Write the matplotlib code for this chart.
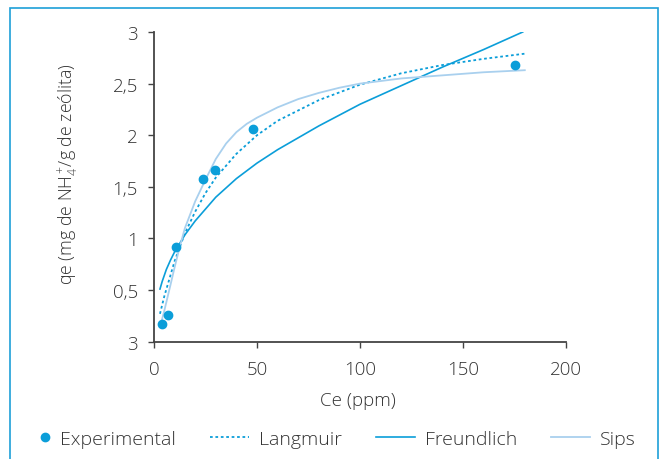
import numpy as np
import matplotlib
matplotlib.use("Agg")
import matplotlib.pyplot as plt
import matplotlib.patches as mpatches
from matplotlib.legend_handler import HandlerLine2D

# colours
BLUE = "#0b9ed9"
LIGHT = "#a9d0ee"
TXT = "#333333"
AX = "#444444"

plt.rcParams["font.family"] = ["Open Sans", "DejaVu Sans"]
plt.rcParams["font.weight"] = "light"
plt.rcParams["axes.labelweight"] = "light"
plt.rcParams["mathtext.fontset"] = "custom"
plt.rcParams["mathtext.rm"] = "Open Sans:light"
plt.rcParams["mathtext.it"] = "Open Sans:light"
plt.rcParams["mathtext.default"] = "rm"

# experimental points
exp_x = [3.8, 7.0, 10.9, 23.7, 29.4, 48.3, 175.0]
exp_y = [0.17, 0.26, 0.92, 1.58, 1.66, 2.06, 2.68]

# model curves
lang_x = [2.9, 5, 10, 15, 20, 25, 30, 40, 50, 60, 80, 100, 120, 140, 160, 180]
lang_y = [0.27, 0.44, 0.78, 1.05, 1.26, 1.44, 1.59, 1.82, 2.00, 2.14, 2.34, 2.49, 2.60, 2.68, 2.74, 2.79]

freu_x = [2.9, 4, 6, 8, 10, 15, 20, 30, 40, 50, 60, 80, 100, 120, 140, 160, 179]
freu_y = [0.51, 0.585, 0.70, 0.79, 0.87, 1.035, 1.17, 1.40, 1.58, 1.73, 1.86, 2.09, 2.30, 2.48, 2.66, 2.83, 3.0]

sips_x = [2.9, 5, 8, 10, 12, 15, 20, 25, 30, 35, 40, 45, 50, 55, 60, 70, 80, 90, 100, 120, 140, 160, 180]
sips_y = [0.14, 0.30, 0.55, 0.72, 0.88, 1.10, 1.36, 1.57, 1.77, 1.92, 2.03, 2.11, 2.17, 2.22, 2.27, 2.35, 2.41, 2.46, 2.50, 2.55, 2.58, 2.61, 2.63]

x_ticks = [0, 50, 100, 150, 200]
y_ticks = [0, 0.5, 1, 1.5, 2, 2.5, 3]
y_labels = ["3", "0,5", "1", "1,5", "2", "2,5", "3"]


class DotRight(HandlerLine2D):
    # put the legend dot next to its text instead of mid-handle
    def get_xdata(self, legend, xdescent, ydescent, width, height, fontsize):
        m = -xdescent + width - 3.5
        return np.array([m - 0.5, m + 0.5]), np.array([m])


fig = plt.figure(figsize=(6.67, 4.6), dpi=100)
ax = fig.add_axes([154 / 667, 1 - 342.7 / 460, 412 / 667, 309.7 / 460])

ax.plot(lang_x, lang_y, color=BLUE, lw=1.3, ls=(0, (1.5, 1.5)), label="Langmuir")
ax.plot(freu_x, freu_y, color=BLUE, lw=1.2, label="Freundlich")
ax.plot(sips_x, sips_y, color=LIGHT, lw=1.3, label="Sips")
pts, = ax.plot(exp_x, exp_y, "o", color=BLUE, ms=6, label="Experimental", zorder=5)

ax.set_xlim(0, 200)
ax.set_ylim(0, 3)
ax.set_xticks(x_ticks)
ax.set_xticklabels([str(t) for t in x_ticks])
ax.set_yticks(y_ticks)
ax.set_yticklabels(y_labels)
ax.tick_params(direction="out", length=4.5, width=1, color=AX,
               labelcolor=TXT, labelsize=13.5)
ax.tick_params(axis="x", pad=8.5)
ax.tick_params(axis="y", pad=7)

for s in ["top", "right"]:
    ax.spines[s].set_visible(False)
for s in ["left", "bottom"]:
    ax.spines[s].set_color(AX)
    ax.spines[s].set_linewidth(1.3)

ax.set_xlabel("Ce (ppm)", color=TXT, fontsize=13.5)
ax.xaxis.set_label_coords(0.495, -0.158)
ax.set_ylabel("qe (mg de NH$_4^+\\!$/g de zeólita)", color=TXT, fontsize=12.8)
ax.yaxis.set_label_coords(-0.177, 0.545)

h, l = ax.get_legend_handles_labels()
order = [3, 0, 1, 2]
fig.legend([h[i] for i in order], [l[i] for i in order], loc="center left",
           bbox_to_anchor=(11 / 667, 1 - 440 / 460), ncol=4, frameon=False,
           fontsize=14, handlelength=2.0, handletextpad=0.52, columnspacing=1.75,
           borderpad=0, borderaxespad=0, labelcolor=TXT,
           handler_map={pts: DotRight()})

# frame around the whole figure
fig.patches.append(mpatches.Rectangle((10 / 667, -0.05), 648 / 667, 1.05 - 9 / 460,
                                      transform=fig.transFigure, fill=False,
                                      ec="#1ea0d8", lw=1.2))

plt.savefig("out.png", dpi=100)
plt.close()
